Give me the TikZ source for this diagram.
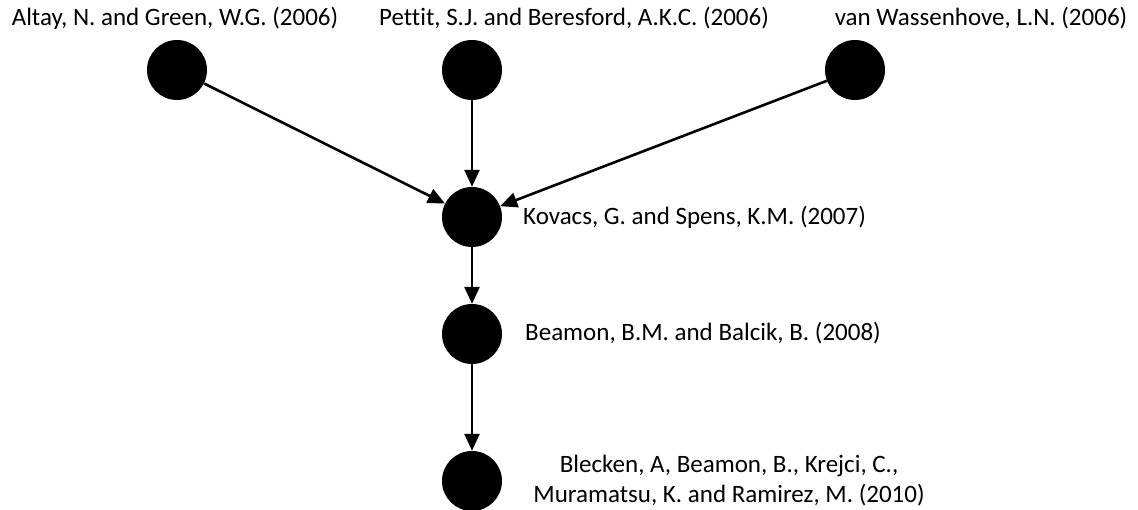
\documentclass[tikz,border=0pt]{standalone}
\usepackage{fontspec}
\setmainfont[Ligatures=NoCommon]{Carlito}
\usetikzlibrary{arrows.meta}
\begin{document}
\begin{tikzpicture}[x=1pt,y=-1pt,
  paper/.style={circle,fill=black,inner sep=0pt,minimum size=60pt},
  ref/.style={font=\fontsize{25}{30}\selectfont,inner sep=0pt,align=center},
  cite/.style={draw=black,line width=2.6pt,-{Triangle[length=17pt,width=15pt]}}]
\useasboundingbox (0,0) rectangle (1138,510);
% papers
\node[paper] (altay) at (177,70) {};
\node[paper] (pettit) at (472,70) {};
\node[paper] (wass) at (855,70) {};
\node[paper] (kovacs) at (472,217) {};
\node[paper] (beamon) at (472,334) {};
\node[paper] (blecken) at (472,481) {};
% labels
\node[ref] (laltay) at (175,18) {Altay, N. and Green, W.G. (2006)};
\node[ref] (lpettit) at (574,18) {Pettit, S.J. and Beresford, A.K.C. (2006)};
\node[ref] (lwass) at (981,18) {van Wassenhove, L.N. (2006)};
\node[ref,anchor=west] (lkovacs) at (523,217) {Kovacs, G. and Spens, K.M. (2007)};
\node[ref,anchor=west] (lbeamon) at (525,333) {Beamon, B.M. and Balcik, B. (2008)};
\node[ref] (lblecken) at (729,481) {Blecken, A, Beamon, B., Krejci, C.,\\Muramatsu, K. and Ramirez, M. (2010)};
% citations
\draw[cite] (altay) -- (kovacs);
\draw[cite] (pettit) -- (kovacs);
\draw[cite] (wass) -- (kovacs);
\draw[cite] (kovacs) -- (beamon);
\draw[cite] (beamon) -- (blecken);
\end{tikzpicture}
\end{document}
